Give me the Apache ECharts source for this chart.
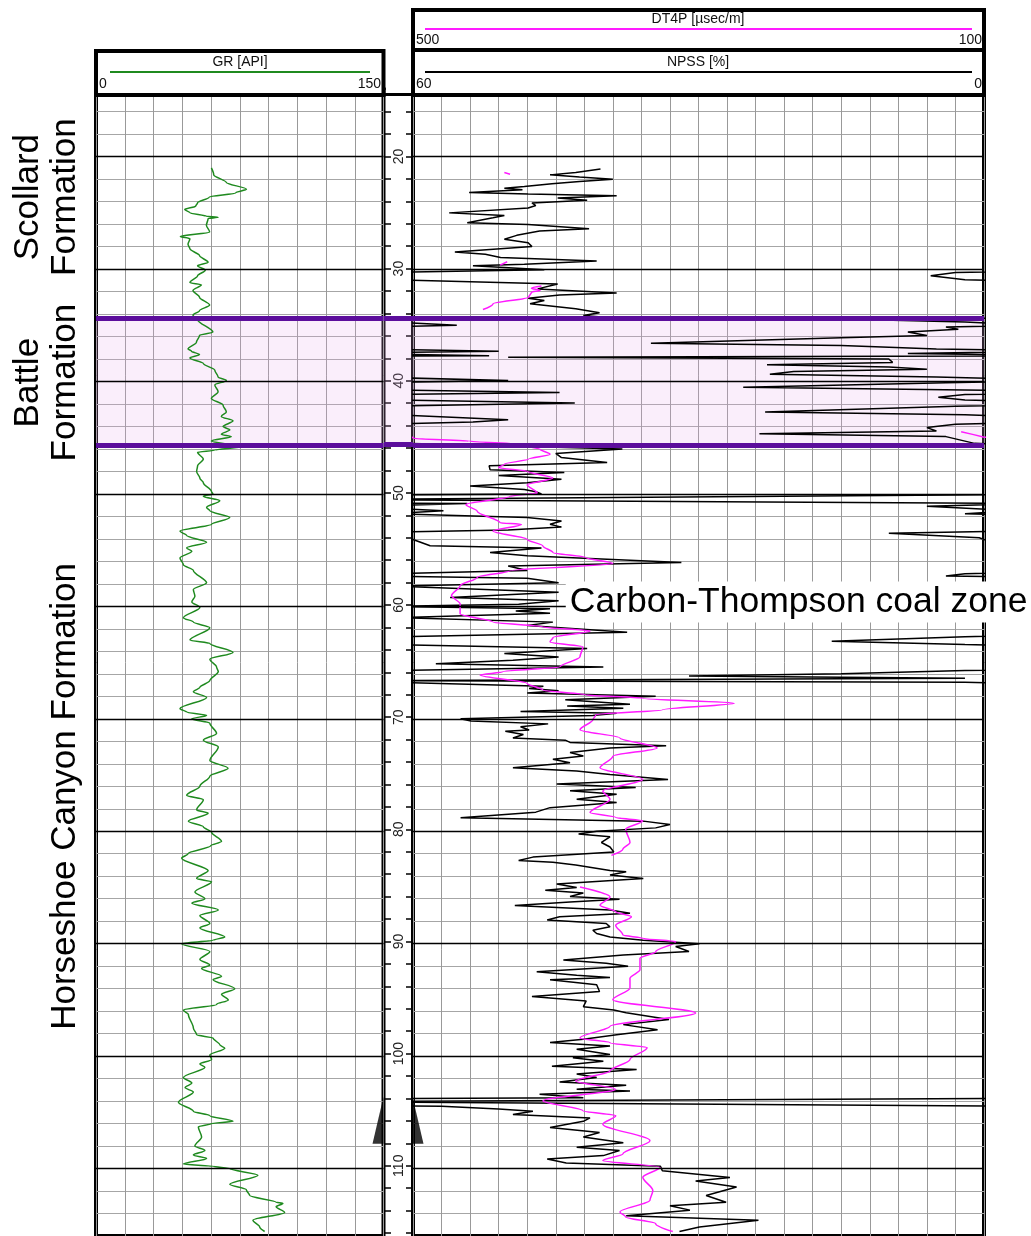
<!DOCTYPE html>
<html>
<head>
<meta charset="utf-8">
<title>Well log</title>
<script src="https://cdn.jsdelivr.net/npm/echarts@6/dist/echarts.min.js"></script>
<style>
    html, body { margin: 0; padding: 0; background: #fff; }
    #mainChart { width: 1031px; height: 1236px; }
</style>
</head>
<body>
<div id="mainChart"></div>
<script>
// [depth m, GR API]
const grLog = [
    [21.0,60.2],[21.6,61.4],[22.3,68],[22.9,78.5],[23.2,73],[23.6,59],[24.1,53],[24.4,52],[24.7,46.3],[25.0,49],
    [25.3,57.6],[25.4,63.7],[25.5,58.5],[26.1,57.6],[26.7,59.3],[27.1,44],[27.3,49],[27.8,48],[28.2,49],[28.8,54],
    [29.4,58.5],[29.7,53],[30.1,57],[30.6,53],[31.2,49],[31.4,55],[31.9,50.6],[32.5,54],[33.2,59.3],[33.7,54],
    [34.1,50.6],[34.5,53],[35.6,61],[35.9,54],[36.5,52.4],[37.1,48],[37.3,49.8],[37.6,54],[37.9,49],[38.4,56],
    [39.0,62],[39.6,63.7],[39.9,68],[40.3,62],[40.9,63.7],[41.5,60.2],[42.1,66.3],[42.7,68],[43.1,65.4],[43.5,71.5],
    [44.0,66.3],[44.3,69.8],[44.7,65.4],[44.9,70.6],[45.3,60.2],[45.8,75.9],[46.1,62],[46.3,53],[46.9,56],[47.5,53],
    [48.0,52.5],[48.6,54.2],[49.0,56],[49.8,60.3],[50.0,61],[50.2,56],[50.6,64.6],[51.2,57.7],[51.5,59.4],[52.1,69.8],
    [52.7,60.3],[53.3,43.8],[53.7,47.3],[54.3,57.7],[54.8,47.3],[55.1,50],[55.7,43.8],[56.3,45.6],[56.8,50.8],[57.9,57.7],
    [58.5,50.8],[59.1,51.6],[59.6,50],[60.1,54.2],[61.0,45.6],[61.4,50.8],[61.9,59.4],[63.0,49],[63.3,59.4],[64.1,71.5],
    [64.7,59.4],[65.4,62.9],[65.8,63.8],[66.6,59.4],[67.2,54.2],[67.6,50.8],[68.1,57.7],[69.1,43.8],[69.4,47.3],[69.7,57.7],
    [70.0,50],[70.4,59.4],[71.3,62.9],[71.9,56],[72.5,63.8],[73.7,59.4],[74.4,68.9],[75.1,59.4],[76.0,54.2],[76.8,47.3],
    [77.2,56],[78.1,52.5],[78.4,58.5],[79.1,48.2],[79.6,56],[80.1,60.3],[80.9,65.5],[81.3,59.8],[82.0,48],[82.4,44.7],
    [83.5,58.5],[84.2,52.5],[84.5,60.3],[85.4,51.6],[86.0,56.8],[86.4,50],[87.0,63.8],[87.5,54.2],[88.2,59.4],[88.6,54.2],
    [89.4,67.2],[89.7,61.1],[90.0,44.7],[90.7,59.4],[91.4,54.2],[91.9,59.4],[92.2,55.1],[92.9,65.5],[93.2,61.1],[94.0,72.4],
    [94.5,65.5],[95.0,69],[95.4,62.9],[95.9,45.6],[96.3,48.2],[97.5,50.8],[98.1,52.5],[98.4,61.1],[99.0,64.6],[99.3,67.2],
    [99.9,59.4],[100.3,60.3],[100.7,54.2],[101.0,56.8],[101.9,45.6],[102.4,50],[102.8,46.5],[103.2,50.8],[104.1,43],[104.9,50.8],
    [105.3,59.4],[105.8,71.5],[106.0,60.3],[106.3,53.4],[107.2,55.1],[108.0,51.6],[108.4,56.8],[108.8,50.8],[109.1,57.7],[109.6,45.6],
    [109.8,61.1],[110.0,69.8],[110.6,84.5],[111.4,69.8],[111.9,78.5],[112.4,80.2],[113.0,94],[113.1,97.5],[113.4,94],[113.9,98.4],
    [114.6,81.9],[115.2,85.4],[115.6,88]
];

// [depth m, NPSS %] - values above 60 wrap onto the right side of the track
const npssLog = [
    [21.09,40.3],[21.41,42.9],[21.62,45.6],[21.82,42.5],[22.0,39.0],[22.2,42.5],[22.41,45.4],[22.65,48.3],[22.8,50.4],[22.94,48.5],
    [23.18,54.1],[23.32,47.9],[23.47,38.6],[23.68,44.8],[23.88,41.7],[24.12,47.5],[24.35,47.1],[24.56,47.9],[25.0,56.2],[25.24,50.4],
    [25.44,51.6],[25.88,54.3],[26.03,47.9],[26.41,41.5],[26.62,46.7],[27.0,49.1],[27.35,50.4],[27.65,47.9],[28.0,47.5],[28.47,55.6],
    [28.68,52.4],[28.97,50.8],[29.29,40.7],[29.56,48.3],[29.7,53.7],[30.06,46.2],[30.3,63],[30.6,65.6],[30.95,62],[31.32,44.8],
    [31.76,46.9],[32.12,38.6],[32.3,44.6],[32.6,47.9],[32.8,46.2],[33.09,47.7],[33.53,42.9],[33.88,40.4],[34.12,42.1],[34.26,40.2],
    [34.45,75],[34.7,62],[35.0,55.4],[35.15,64],[35.35,62.7],[35.6,68],[35.9,66],[36.1,75],[36.6,95],[36.8,75],
    [37.1,65],[37.3,51],[37.5,68],[37.7,52],[37.85,110],[38.0,70],[38.3,69.6],[38.5,82.8],[38.7,70],[38.9,66],
    [39.1,80],[39.35,82.5],[39.6,65],[39.9,50],[40.1,64],[40.5,85.3],[40.75,62],[40.97,44.6],[41.15,62],[41.4,64.8],
    [41.65,62],[41.9,43],[42.2,63],[42.7,83],[42.95,62],[43.4,50],[43.6,53.7],[43.8,63],[44.1,66],[44.4,65],
    [44.65,83.6],[44.9,64],[45.3,62],[45.5,61],[46.0,38],[46.4,45],[46.76,44.4],[47.2,39.6],[47.5,52],[47.85,51.9],
    [48.1,44.1],[48.35,51],[48.7,44.4],[49.0,48],[49.3,54],[49.6,48.3],[49.8,47.1],[50.0,46.5],[50.5,130],[50.85,54.3],
    [51.1,66],[51.5,56.8],[51.75,62],[52.1,48],[52.4,44.4],[52.7,45.6],[52.95,44.4],[53.2,50],[53.5,70],[53.9,60.5],
    [54.6,58.2],[54.8,46.5],[55.2,51.9],[55.5,48],[56.1,31.8],[56.4,50],[56.8,48],[57.1,62],[57.3,64],[57.5,48],
    [57.9,44.7],[58.2,62],[58.75,44.7],[59.2,56.1],[59.5,44.7],[59.8,48.9],[60.0,62],[60.2,45.6],[60.4,49.2],[60.6,45.6],
    [61.0,61.5],[61.4,45.3],[61.7,48],[62.3,37.5],[62.7,62],[63.1,76],[63.4,62],[63.75,41.7],[64.2,50.4],[64.5,44.7],
    [64.8,49.5],[65.1,57.6],[65.4,40],[65.7,62],[66.0,75],[66.2,91],[66.4,62],[66.6,125],[66.75,62],[67.1,46.3],
    [67.3,47.8],[67.5,44.7],[67.7,48],[68.0,34.5],[68.3,44],[68.7,37.2],[68.85,43.8],[69.05,37.9],[69.35,48.7],[69.5,38.6],
    [69.7,41.1],[70.0,55],[70.2,53.9],[70.45,45.8],[70.7,48.7],[71.0,47.8],[71.1,50.3],[71.4,48.4],[71.7,49.5],[71.9,44],
    [72.1,43.5],[72.4,33.4],[72.6,39.3],[73.0,43.5],[73.3,42.1],[73.6,45.3],[73.9,43.5],[74.35,49.5],[74.65,42.8],[74.95,39.3],
    [75.4,33.2],[75.8,44.9],[76.1,36.6],[76.4,43.5],[76.7,38.6],[77.15,42.8],[77.45,38.6],[77.9,45.6],[78.3,47.1],[78.8,55],
    [79.1,35.8],[79.4,33],[79.7,34.5],[80.0,40.7],[80.25,42.6],[80.5,39.3],[81.0,40.2],[81.4,39.3],[81.85,38.9],[82.3,47.4],
    [82.6,48.9],[82.75,45.3],[83.0,42.9],[83.5,39.3],[83.6,37.6],[83.9,39.3],[84.2,35.8],[84.7,44.9],[85.0,42.8],[85.25,46.1],
    [85.5,42.1],[85.8,43.5],[86.05,38.3],[86.3,43.5],[86.6,49.3],[87.0,39.3],[87.3,37.2],[87.6,44.6],[87.9,45.9],[88.2,39.7],
    [88.5,39.3],[88.8,41.1],[89.1,40.7],[89.4,39.3],[89.7,35.8],[90.0,29.9],[90.25,32.4],[90.7,31.0],[91.0,37.9],[91.45,44.2],
    [91.75,39.7],[92.0,37.4],[92.5,47.0],[92.8,42.8],[93.0,39.3],[93.2,45.6],[93.65,40.7],[94.25,40.4],[94.7,47.5],[95.1,41.8],
    [95.6,42.1],[95.9,38.9],[96.15,37.6],[96.75,33.1],[97.2,37.9],[97.65,34.3],[98.1,38.6],[98.5,42.1],[98.8,45.6],[99.1,39.3],
    [99.4,42.8],[99.85,39.3],[100.15,43.2],[100.45,40],[100.9,45.4],[101.2,36.5],[101.6,42.8],[101.9,40.7],[102.3,44.6],[102.6,37.6],
    [102.95,42.8],[103.1,37.2],[103.4,46.7],[103.7,42.1],[104.05,130],[104.45,57],[104.7,51],[104.9,47.4],[105.2,49.5],[105.5,41.4],
    [105.8,42.1],[106.35,45.6],[106.8,40.4],[107.2,42.1],[107.7,37.9],[108.1,42.8],[108.4,38.3],[108.85,40],[109.15,45.9],[109.5,43.9],
    [109.8,34],[110.2,33.8],[110.8,26.7],[111.1,30.3],[111.65,26.0],[112.4,29.2],[113.0,27.1],[113.3,33],[113.7,30.9],[114.2,37.6],
    [114.6,23.7],[115.2,29.9],[115.6,32]
];

// [depth m, DT4P usec/m] - null = no data; values above 500 wrap to the right
const dtLog = [
    [21.41,436],[21.56,432],[21.6,null],
    [29.35,434],[29.65,439],[29.7,null],
    [31.5,410],[31.7,417],[31.9,411],[32.06,417],[32.5,419],[33.1,444],[33.6,451],[33.7,null],
    [44.47,516],[44.7,508],[44.94,500.5],[45.06,499.4],[45.3,460.8],[45.6,424.8],[46.03,411],[46.47,404],[46.9,419],[47.35,436],
    [47.65,440],[47.99,420],[48.59,402],[49.18,420],[49.91,413],[50.21,432],[50.94,463],[51.53,455],[52.56,439],[52.71,424],
    [53.3,444],[54.04,420],[54.62,409],[55.21,402],[55.66,379],[56.19,360],[56.83,432],[57.42,455],[58.16,467],[59.04,473],
    [59.78,467],[60.66,467],[61.4,444],[61.84,409],[62.19,376],[62.78,402],[63.17,404],[63.6,381],[64.49,383],[65.38,397],
    [65.82,437],[66.11,453],[66.85,420],[67.44,409],[67.88,379],[68.17,339],[68.62,275],[69.2,325],[69.65,372],[70.09,374],
    [70.97,383],[71.71,355],[72.59,329],[73.33,360],[74.36,369],[75.39,339],[76.42,367],[77.16,362],[78.34,376],[78.78,358],
    [79.07,339],[79.81,351],[80.99,348],[81.6,353],[82.15,361],[82.2,null],
    [84.96,383],[85.84,362],[86.58,369],[87.17,358],[87.61,347],[88.35,358],[89.23,353],[89.53,339],[89.82,316],[90.71,330],
    [91.3,341],[92.33,341],[93.07,348],[93.95,348],[94.99,360],[96.17,302],[97.35,362],[98.38,383],[98.82,362],[99.26,336],
    [100.3,348],[101.33,362],[102.21,386],[102.95,358],[103.98,409],[104.87,381],[105.31,358],[106.05,367],[107.52,334],[108.7,353],
    [109.29,367],[109.88,327],[110.77,339],[111.95,332],[112.83,334],[113.86,355],[114.31,351],[114.9,330],[115.6,318]
];

const grScale = [0, 150];
const npssScale = [60, 0];
const dtScale = [500, 100];
const depthRange = [14, 116];
const majorDepths = [20, 30, 40, 50, 60, 70, 80, 90, 100, 110];
const battleZone = [34.4, 45.7];
const formationNames = ['Scollard\nFormation', 'Battle\nFormation', 'Horseshoe Canyon Formation'];
const formationDepths = [23.6, 40.1, 76.9];
const casingShoe = [108.05];
const coalZoneName = 'Carbon-Thompson coal zone';
const coalZoneDepth = 59.6;

const PX_PER_M = 11.3;
const GRID_TOP = 157 - (20 - depthRange[0]) * PX_PER_M;
const GRID_H = (depthRange[1] - depthRange[0]) * PX_PER_M;
const FONT = 'Liberation Sans, Arial, sans-serif';

const chart = echarts.init(document.getElementById('mainChart'), null, { renderer: 'canvas' });

function depthAxis(gridIndex, extra) {
    return Object.assign({
        gridIndex, type: 'value', inverse: true,
        min: depthRange[0], max: depthRange[1], interval: 2,
        axisLine: { show: false }, axisTick: { show: false }, axisLabel: { show: false },
        splitLine: { show: false }
    }, extra || {});
}

const zoneMarkLine = (withMajors) => ({
    silent: true, symbol: ['none', 'none'], label: { show: false },
    lineStyle: { color: '#000', width: 1.3, type: 'solid' },
    data: [
        ...(withMajors ? majorDepths.map(d => ({ yAxis: d })) : []),
        ...battleZone.map(d => ({ yAxis: d, lineStyle: { color: '#5c0e9c', width: 5, type: 'solid' } }))
    ]
});
const zoneMarkArea = {
    silent: true,
    itemStyle: { color: 'rgba(232,170,235,0.2)' },
    data: [[{ yAxis: battleZone[0] }, { yAxis: battleZone[1] }]]
};

const lineBase = { type: 'line', showSymbol: false, silent: true, animation: false, clip: true };
const headerText = (text, x, y, align) => ({
    type: 'text', z: 101, x, y,
    style: { text, fontSize: 14, fontFamily: FONT, fill: '#111', align, verticalAlign: 'middle' }
});

const option = {
    animation: false,
    backgroundColor: '#fff',
    textStyle: { fontFamily: FONT },
    grid: [
        { left: 96, top: GRID_TOP, width: 287.5, height: GRID_H, show: true, borderColor: '#000', borderWidth: 4, backgroundColor: 'transparent' },
        { left: 413, top: GRID_TOP, width: 571, height: GRID_H, show: true, borderColor: '#000', borderWidth: 4, backgroundColor: 'transparent' },
        { left: 384, top: GRID_TOP, width: 29, height: GRID_H },
        { left: 0, top: GRID_TOP, width: 92, height: GRID_H }
    ],
    xAxis: [
        { gridIndex: 0, type: 'value', min: grScale[0], max: grScale[1], interval: 15,
          axisLine: { show: false }, axisTick: { show: false }, axisLabel: { show: false },
          splitLine: { show: true, lineStyle: { color: '#999', width: 1 } } },
        { gridIndex: 1, type: 'value', min: npssScale[1], max: npssScale[0], interval: 3, inverse: true,
          axisLine: { show: false }, axisTick: { show: false }, axisLabel: { show: false },
          splitLine: { show: true, lineStyle: { color: '#999', width: 1 } } },
        { gridIndex: 1, type: 'value', min: dtScale[1], max: dtScale[0], inverse: true, show: false },
        { gridIndex: 2, type: 'value', min: 0, max: 1, show: false },
        { gridIndex: 3, type: 'value', min: 0, max: 1, show: false }
    ],
    yAxis: [
        depthAxis(0, { splitLine: { show: true, lineStyle: { color: '#a6a6a6', width: 1 } } }),
        depthAxis(1, { splitLine: { show: true, lineStyle: { color: '#a6a6a6', width: 1 } } }),
        depthAxis(2, {
            position: 'left',
            axisTick: { show: true, inside: true, length: 7, lineStyle: { color: '#000', width: 1.5 } },
            axisLabel: {
                show: true, inside: true, rotate: 90, margin: 8, fontSize: 14, color: '#222',
                formatter: v => (v % 10 === 0 ? String(v) : '')
            }
        }),
        depthAxis(2, {
            position: 'right',
            axisTick: { show: true, inside: true, length: 7, lineStyle: { color: '#000', width: 1.5 } }
        }),
        depthAxis(3, { show: false })
    ],
    series: [
        {
            ...lineBase, name: 'GR', xAxisIndex: 0, yAxisIndex: 0,
            smooth: 0.3, smoothMonotone: 'y',
            lineStyle: { color: '#1f8a1f', width: 1.5 }, itemStyle: { color: '#1f8a1f' },
            data: grLog.map(([d, v]) => [v, d]),
            markLine: zoneMarkLine(true), markArea: zoneMarkArea
        },
        {
            ...lineBase, name: 'NPSS', xAxisIndex: 1, yAxisIndex: 1,
            lineStyle: { color: '#000', width: 1.5 }, itemStyle: { color: '#000' },
            data: npssLog.map(([d, v]) => [v, d]),
            markLine: zoneMarkLine(true), markArea: zoneMarkArea
        },
        {
            ...lineBase, name: 'NPSS wrap', xAxisIndex: 1, yAxisIndex: 1,
            lineStyle: { color: '#000', width: 1.5 }, itemStyle: { color: '#000' },
            data: npssLog.map(([d, v]) => [v - (npssScale[0] - npssScale[1]), d])
        },
        {
            ...lineBase, name: 'DT4P', xAxisIndex: 2, yAxisIndex: 1,
            smooth: 0.3, smoothMonotone: 'y',
            lineStyle: { color: '#ff1aff', width: 1.5 }, itemStyle: { color: '#ff1aff' },
            data: dtLog.map(([d, v]) => [v === null ? '-' : v, d])
        },
        {
            ...lineBase, name: 'DT4P wrap', xAxisIndex: 2, yAxisIndex: 1,
            lineStyle: { color: '#ff1aff', width: 1.5 }, itemStyle: { color: '#ff1aff' },
            data: dtLog.map(([d, v]) => [v === null ? '-' : v - (dtScale[0] - dtScale[1]), d])
        },
        {
            type: 'scatter', name: 'Casing', xAxisIndex: 3, yAxisIndex: 2, silent: true, clip: false,
            symbolSize: [11, 47], itemStyle: { color: '#000' },
            data: [
                { value: [0, casingShoe[0]], symbol: 'path://M10,0 L10,47 L0,47 Z', symbolOffset: [-6, -23.5] },
                { value: [1, casingShoe[0]], symbol: 'path://M0,0 L0,47 L10,47 Z', symbolOffset: [5, -23.5] }
            ],
            markLine: zoneMarkLine(false), markArea: zoneMarkArea
        },
        {
            type: 'scatter', name: 'Formations', xAxisIndex: 4, yAxisIndex: 4, silent: true, clip: false,
            symbolSize: 1, itemStyle: { color: 'rgba(0,0,0,0)' },
            label: {
                show: true, position: 'inside', rotate: 90, formatter: '{b}',
                fontSize: 35, lineHeight: 37, color: '#000', opacity: 1, fontFamily: FONT
            },
            data: formationNames.map((n, i) => ({ name: n, value: [n.includes('\n') ? 0.505 : 0.705, formationDepths[i]] }))
        },
        {
            type: 'scatter', name: 'Coal zone', xAxisIndex: 1, yAxisIndex: 1, silent: true, clip: false, z: 10,
            symbolSize: 1, itemStyle: { color: 'rgba(0,0,0,0)' },
            label: {
                show: true, position: 'right', distance: 0, formatter: '{b}',
                fontSize: 35.5, color: '#000', opacity: 1, fontFamily: FONT,
                backgroundColor: '#fff', padding: [3, 8, 2, 4]
            },
            data: [{ name: coalZoneName, value: [44, coalZoneDepth] }]
        }
    ],
    graphic: [
        // GR header
        { type: 'rect', z: 100, shape: { x: 96, y: 51, width: 287.5, height: 44 }, style: { fill: '#fff', stroke: '#000', lineWidth: 4 } },
        headerText('GR [API]', 240, 62, 'center'),
        { type: 'line', z: 101, shape: { x1: 110, y1: 72, x2: 370, y2: 72 }, style: { stroke: '#1f8a1f', lineWidth: 2 } },
        headerText(String(grScale[0]), 99, 84, 'left'),
        headerText(String(grScale[1]), 381, 84, 'right'),
        // DT4P / NPSS header
        { type: 'rect', z: 100, shape: { x: 413, y: 10, width: 571, height: 85 }, style: { fill: '#fff', stroke: '#000', lineWidth: 4 } },
        { type: 'line', z: 101, shape: { x1: 413, y1: 50, x2: 984, y2: 50 }, style: { stroke: '#000', lineWidth: 4 } },
        headerText('DT4P [µsec/m]', 698, 19, 'center'),
        { type: 'line', z: 101, shape: { x1: 425, y1: 29, x2: 972, y2: 29 }, style: { stroke: '#ff1aff', lineWidth: 2 } },
        headerText(String(dtScale[0]), 416, 40, 'left'),
        headerText(String(dtScale[1]), 982, 40, 'right'),
        headerText('NPSS [%]', 698, 62, 'center'),
        { type: 'line', z: 101, shape: { x1: 425, y1: 72, x2: 972, y2: 72 }, style: { stroke: '#000', lineWidth: 2 } },
        headerText(String(npssScale[0]), 416, 84, 'left'),
        headerText(String(npssScale[1]), 982, 84, 'right'),
        // depth track cap
        { type: 'rect', z: 100, shape: { x: 386, y: 56, width: 25, height: 37 }, style: { fill: '#fff' } },
        { type: 'line', z: 101, shape: { x1: 383, y1: 94.5, x2: 413, y2: 94.5 }, style: { stroke: '#000', lineWidth: 3 } }
    ]
};

chart.setOption(option);
window.addEventListener('resize', () => chart.resize());
</script>
</body>
</html>
